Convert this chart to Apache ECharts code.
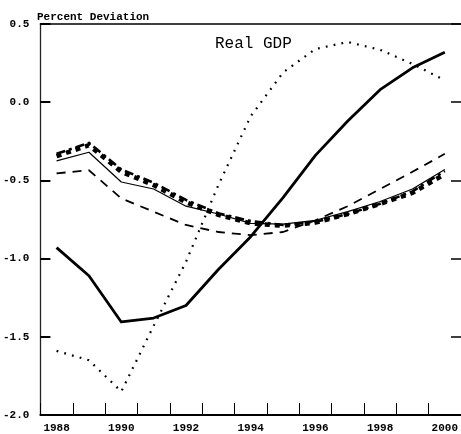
<!DOCTYPE html>
<html>
<head>
<meta charset="utf-8">
<script src="https://cdn.jsdelivr.net/npm/echarts@6/dist/echarts.min.js"></script>
<style>
html,body{margin:0;padding:0;background:#fff;}
#chart{width:461px;height:434px;}
</style>
</head>
<body>
<div id="chart"></div>
<script>
var years = ['1988','1989','1990','1991','1992','1993','1994','1995','1996','1997','1998','1999','2000'];
var yTicks = [-2.0, -1.5, -1.0, -0.5, 0.0, 0.5];
var thickSolid = [-0.93, -1.11, -1.405, -1.38, -1.30, -1.07, -0.86, -0.61, -0.34, -0.12, 0.08, 0.22, 0.32];
var dotted = [-1.59, -1.65, -1.85, -1.43, -1.02, -0.53, -0.09, 0.19, 0.34, 0.385, 0.335, 0.245, 0.14];
var thinSolid = [-0.375, -0.32, -0.51, -0.555, -0.665, -0.715, -0.775, -0.78, -0.755, -0.70, -0.635, -0.555, -0.43];
var dashed = [-0.455, -0.435, -0.615, -0.70, -0.785, -0.83, -0.85, -0.83, -0.755, -0.665, -0.555, -0.445, -0.33];
var dashDot = [-0.33, -0.26, -0.43, -0.515, -0.625, -0.71, -0.76, -0.785, -0.765, -0.715, -0.65, -0.57, -0.44];
var squares = [-0.345, -0.275, -0.445, -0.53, -0.64, -0.72, -0.775, -0.79, -0.77, -0.715, -0.65, -0.58, -0.46];

var mono = '"Liberation Mono", "DejaVu Sans Mono", monospace';
var chart = echarts.init(document.getElementById('chart'));

function line(name, data, width, type, cap) {
  return {
    name: name, type: 'line', data: data, xAxisIndex: 0, yAxisIndex: 0,
    symbol: 'none', silent: true, animation: false,
    lineStyle: {color: '#000', width: width, type: type, cap: cap || 'butt', join: 'round'}
  };
}

chart.setOption({
  animation: false,
  backgroundColor: '#fff',
  title: [{
    text: 'Percent Deviation', left: 37, top: 12, padding: 0,
    textStyle: {fontFamily: mono, fontSize: 11, fontWeight: 'bold', color: '#000'}
  }, {
    text: 'Real GDP', left: 215, top: 36, padding: 0,
    textStyle: {fontFamily: mono, fontSize: 16, fontWeight: 'normal', color: '#000'}
  }],
  grid: {left: 40, right: -1, top: 24, bottom: 19, containLabel: false},
  xAxis: [{
    type: 'category', data: years, boundaryGap: true, position: 'bottom',
    axisLine: {show: true, onZero: false, lineStyle: {color: '#000', width: 2}},
    axisTick: {show: true, inside: true, length: 12, interval: 0, lineStyle: {color: '#000', width: 1}},
    axisLabel: {interval: 1, margin: 8, fontFamily: mono, fontSize: 11, fontWeight: 'bold', color: '#000'},
    splitLine: {show: false}
  }, {
    type: 'category', data: years, boundaryGap: true, position: 'top',
    axisLine: {show: true, onZero: false, lineStyle: {color: '#000', width: 1.5}},
    axisTick: {show: false}, axisLabel: {show: false}, splitLine: {show: false}
  }],
  yAxis: [{
    type: 'value', min: -2, max: 0.5, interval: 0.5, position: 'left',
    axisLine: {show: true, lineStyle: {color: '#222', width: 1.3}},
    axisTick: {show: true, inside: true, length: 10, lineStyle: {color: '#000', width: 2}},
    axisLabel: {
      margin: 11, fontFamily: mono, fontSize: 11, fontWeight: 'bold', color: '#000',
      formatter: function (v) { return v.toFixed(1); }
    },
    splitLine: {show: false}
  }, {
    type: 'value', min: -2, max: 0.5, interval: 0.5, position: 'right',
    axisLine: {show: false},
    axisTick: {show: true, inside: true, length: 10, lineStyle: {color: '#000', width: 1.5}},
    axisLabel: {show: false},
    splitLine: {show: false}
  }],
  series: [
    line('dotted', dotted, 2.2, [1.8, 6.2]),
    line('dashed', dashed, 1.8, [9, 7]),
    line('squares', squares, 4.5, [5, 5]),
    line('thin solid', thinSolid, 1.2, 'solid'),
    line('dash-dot', dashDot, 2.6, [9, 4, 3, 4]),
    line('thick solid', thickSolid, 2.8, 'solid')
  ]
});
</script>
</body>
</html>
